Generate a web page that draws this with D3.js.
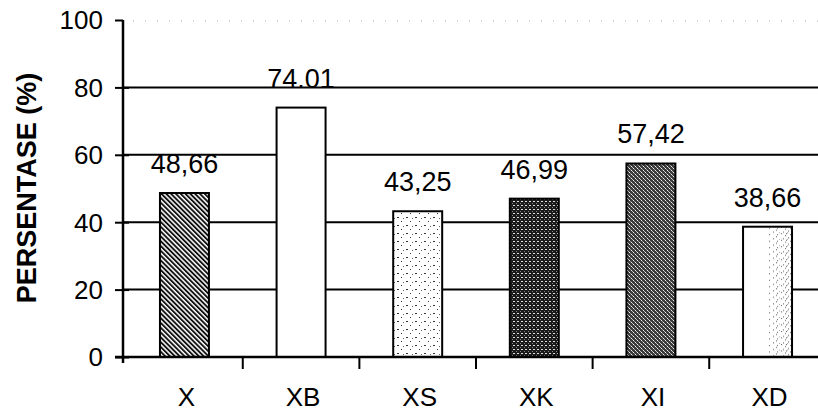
<!DOCTYPE html>
<html><head><meta charset="utf-8">
<script src="https://cdnjs.cloudflare.com/ajax/libs/d3/7.8.5/d3.min.js"></script>
<style>body{margin:0;background:#fff}svg{display:block}text{font-family:"Liberation Sans",Arial,sans-serif}</style>
</head><body><svg id="c" width="818" height="414"></svg>
<script>
const categories = ["X","XB","XS","XK","XI","XD"];
const values = [48.66, 74.01, 43.25, 46.99, 57.42, 38.66];
const valueLabels = ["48,66","74.01","43,25","46,99","57,42","38,66"];
const yTicks = [0,20,40,60,80,100];

const svg = d3.select("#c");
const AX=123;
const x=d3.scaleBand().domain(categories).range([AX,829]).paddingInner(0.58).paddingOuter(0.317);
const y=d3.scaleLinear().domain([0,100]).range([357,20]);

const defs=svg.append("defs");
function pat(id,w,h,bg){const p=defs.append("pattern").attr("id",id).attr("patternUnits","userSpaceOnUse").attr("width",w).attr("height",h);
  p.append("rect").attr("width",w).attr("height",h).attr("fill",bg);return p;}
function dot(p,x0,y0,c,w=1,h=1){p.append("rect").attr("x",x0).attr("y",y0).attr("width",w).attr("height",h).attr("fill",c);}
// X: diagonal hatch "\\\"
let p=defs.append("pattern").attr("id","p0").attr("patternUnits","userSpaceOnUse").attr("width",3.4).attr("height",4).attr("patternTransform","rotate(-45)");
p.append("rect").attr("width",3.4).attr("height",4).attr("fill","#fff");
p.append("rect").attr("width",1.9).attr("height",4).attr("fill","#111");
// XB: white
pat("p1",4,4,"#fff");
// XS: sparse dashes/dots
p=pat("p2",9,8,"#fff");
dot(p,1,1,"#333",2,1);dot(p,5,5,"#333",1,1);dot(p,7,2,"#666",1,1);
// XK: dense dark grid
p=pat("p3",4,4,"#1a1a1a");
dot(p,1,1,"#ddd",2,1);dot(p,0,3,"#888",1,1);
// XI: dark stipple
p=pat("p4",4,4,"#3a3a3a");
dot(p,1,0,"#f0f0f0");dot(p,3,2,"#f0f0f0");dot(p,0,3,"#bbb");dot(p,2,1,"#999");
// XD: white with stipple on the right side
p=defs.append("pattern").attr("id","p5").attr("patternUnits","objectBoundingBox").attr("width",1).attr("height",0.05);
p.append("rect").attr("width",60).attr("height",20).attr("fill","#fff");
[[26,1],[33,3],[38,0],[42,2],[45,4],[30,5],[36,6],[44,6],[40,5],[47,1],[34,1],[43,0]].forEach(([a,b])=>dot(p,a,b,"#555"));

// gridlines
svg.append("g").selectAll("line").data(yTicks.filter(t=>t>0&&t<100)).join("line")
  .attr("x1",AX).attr("x2",818).attr("y1",d=>y(d)).attr("y2",d=>y(d))
  .attr("stroke","#000").attr("stroke-width",2);
svg.append("line").attr("x1",AX+10).attr("x2",818).attr("y1",y(100)+1).attr("y2",y(100)+1)
  .attr("stroke","#aaa").attr("stroke-width",1).attr("stroke-dasharray","1,11");

// bars
svg.append("g").selectAll("rect").data(values).join("rect")
  .attr("x",(d,i)=>x(categories[i])).attr("width",x.bandwidth())
  .attr("y",d=>y(d)).attr("height",d=>y(0)-y(d))
  .attr("fill",(d,i)=>`url(#p${i})`).attr("stroke","#000").attr("stroke-width",2);

// value labels
svg.append("g").selectAll("text").data(values).join("text")
  .attr("x",(d,i)=>x(categories[i])+x.bandwidth()/2)
  .attr("y",d=>y(d)-20)
  .attr("text-anchor","middle").attr("font-size",27).attr("fill","#000")
  .text((d,i)=>valueLabels[i]);

// y axis
const ya=svg.append("g").attr("transform",`translate(${AX},0)`)
  .call(d3.axisLeft(y).tickValues(yTicks).tickSize(8).tickPadding(12));
ya.select(".domain").attr("stroke-width",2.5).attr("d",`M0,${y(100)}V${y(0)+6}`);
ya.selectAll(".tick line").attr("stroke-width",2).attr("x2",-8).attr("x1",d=>d===100?0:6);
ya.selectAll(".tick text").attr("font-size",26).attr("font-family","Liberation Sans, Arial, sans-serif").attr("fill","#000").attr("dy","0.34em");

// x axis
svg.append("line").attr("x1",AX-8).attr("x2",818).attr("y1",y(0)).attr("y2",y(0)).attr("stroke","#000").attr("stroke-width",2.5);
const gap=x.step()-x.bandwidth();
svg.append("g").selectAll("line").data(categories.slice(1)).join("line")
  .attr("x1",d=>x(d)-gap/2).attr("x2",d=>x(d)-gap/2)
  .attr("y1",y(0)).attr("y2",y(0)+12).attr("stroke","#000").attr("stroke-width",2);
svg.append("g").selectAll("text").data(categories).join("text")
  .attr("x",d=>x(d)+x.bandwidth()/2+2).attr("y",406)
  .attr("text-anchor","middle").attr("font-size",26).text(d=>d);

// y title
svg.append("text").attr("transform","translate(36,188) rotate(-90)")
  .attr("text-anchor","middle").attr("font-size",27).attr("font-weight","bold").text("PERSENTASE (%)");
</script></body></html>
